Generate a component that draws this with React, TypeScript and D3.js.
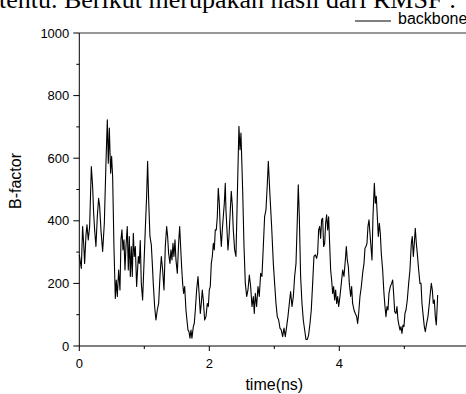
import React from "react";
import * as d3 from "d3";

const timeNs: number[] = [
  0.0, 0.031, 0.051, 0.067, 0.082, 0.103, 0.118, 0.138, 0.159, 0.185, 0.205, 0.221, 0.236, 0.256, 0.277, 0.297,
  0.313, 0.333, 0.359, 0.385, 0.41, 0.431, 0.446, 0.462, 0.482, 0.497, 0.513, 0.533, 0.554, 0.569, 0.585, 0.605,
  0.626, 0.641, 0.656, 0.672, 0.687, 0.703, 0.718, 0.738, 0.754, 0.769, 0.785, 0.8, 0.815, 0.831, 0.846, 0.862,
  0.882, 0.908, 0.923, 0.938, 0.954, 0.974, 1.015, 1.036, 1.051, 1.067, 1.087, 1.108, 1.123, 1.138, 1.159, 1.179,
  1.2, 1.221, 1.241, 1.262, 1.282, 1.303, 1.323, 1.344, 1.359, 1.374, 1.395, 1.41, 1.426, 1.441, 1.456, 1.472,
  1.487, 1.508, 1.528, 1.544, 1.559, 1.574, 1.59, 1.605, 1.621, 1.641, 1.656, 1.672, 1.687, 1.703, 1.718, 1.733,
  1.754, 1.769, 1.785, 1.805, 1.826, 1.846, 1.862, 1.877, 1.892, 1.908, 1.928, 1.949, 1.969, 1.985, 2.0, 2.015,
  2.031, 2.046, 2.062, 2.077, 2.092, 2.108, 2.123, 2.138, 2.154, 2.169, 2.185, 2.2, 2.215, 2.231, 2.246, 2.256,
  2.272, 2.287, 2.303, 2.318, 2.338, 2.354, 2.369, 2.39, 2.41, 2.431, 2.456, 2.472, 2.487,
  2.513, 2.534, 2.554, 2.575, 2.595, 2.616, 2.636, 2.657, 2.677, 2.692, 2.708, 2.728, 2.749, 2.769, 2.79, 2.81,
  2.831, 2.851, 2.872, 2.893, 2.908, 2.934, 2.959, 2.985, 3.005, 3.026, 3.046, 3.067, 3.087, 3.108, 3.128, 3.149,
  3.169, 3.19, 3.21, 3.231, 3.251, 3.272, 3.293, 3.313, 3.334, 3.354, 3.369, 3.385, 3.405, 3.426, 3.446, 3.467,
  3.487, 3.508, 3.528, 3.549, 3.569, 3.59, 3.61, 3.631, 3.651, 3.667, 3.682, 3.698, 3.713, 3.728, 3.744, 3.759,
  3.775, 3.79, 3.805, 3.821, 3.836, 3.851, 3.867, 3.882, 3.898, 3.913, 3.928, 3.944, 3.959, 3.975, 3.99, 4.01,
  4.031, 4.052, 4.072, 4.093, 4.108, 4.123, 4.139, 4.154, 4.175, 4.19, 4.205, 4.226, 4.246, 4.267, 4.282, 4.298,
  4.318, 4.339, 4.359, 4.38, 4.395, 4.41, 4.426, 4.441, 4.457, 4.472, 4.487, 4.503, 4.518, 4.539, 4.554, 4.569,
  4.585, 4.6, 4.616, 4.631, 4.646, 4.667, 4.687, 4.703, 4.718, 4.734, 4.749, 4.764, 4.785, 4.805, 4.821, 4.836,
  4.852, 4.872, 4.887, 4.903, 4.918, 4.934, 4.949, 4.964, 4.98, 4.995, 5.01, 5.026, 5.046, 5.067, 5.087, 5.108,
  5.123, 5.139, 5.154, 5.169, 5.185, 5.2, 5.221, 5.241, 5.257, 5.272, 5.292, 5.308, 5.323, 5.344, 5.364, 5.385,
  5.4, 5.416, 5.431, 5.446, 5.462, 5.477, 5.492, 5.508, 5.513,
];

const backbone: number[] = [
  291, 248, 382, 328, 264, 355, 387, 339, 382, 573, 510, 424, 371, 318, 413, 472,
  446, 371, 302, 392, 584, 723, 584, 696, 552, 606, 541, 318, 152, 211, 158, 243,
  179, 339, 371, 307, 339, 243, 318, 382, 243, 350, 222, 318, 222, 360, 286, 318,
  190, 286, 264, 337, 200, 147, 371, 480, 590, 467, 350, 323, 264, 200, 126, 83,
  115, 136, 222, 286, 243, 179, 318, 382, 350, 296, 264, 307, 275, 328, 286, 339,
  275, 232, 328, 382, 318, 254, 200, 168, 190, 115, 83, 51, 46, 25, 51, 25,
  62, 72, 115, 179, 222, 158, 104, 136, 179, 147, 83, 94, 136, 126, 179, 190,
  264, 286, 328, 307, 371, 371, 413, 504, 456, 371, 318, 371, 413, 456, 520, 435,
  371, 307, 350, 413, 494, 450, 371, 307, 286, 478, 702, 627, 680,
  499, 318, 200, 158, 179, 227, 190, 126, 158, 104, 168, 126, 190, 158, 232, 222,
  318, 413, 435, 520, 590, 478, 382, 264, 200, 136, 94, 83, 57, 51, 30, 57,
  30, 62, 94, 136, 174, 126, 158, 222, 264, 403, 515, 413, 222, 136, 83, 51,
  21, 21, 35, 72, 115, 200, 286, 291, 280, 296, 371, 382, 344, 403, 408, 318,
  328, 392, 419, 371, 413, 328, 243, 211, 168, 190, 147, 179, 136, 158, 126, 158,
  200, 243, 222, 275, 318, 275, 254, 200, 158, 190, 136, 115, 104, 94, 72, 104,
  158, 190, 232, 264, 312, 318, 328, 382, 403, 360, 318, 275, 413, 520, 456, 478,
  413, 350, 392, 360, 296, 243, 168, 126, 94, 126, 115, 168, 190, 200, 211, 168,
  110, 104, 126, 83, 67, 51, 62, 40, 67, 62, 104, 115, 147, 200, 243, 328,
  350, 286, 328, 376, 328, 296, 243, 200, 200, 136, 94, 62, 46, 72, 94, 136,
  168, 200, 179, 136, 147, 94, 67, 136, 163,
];

const xTicks: number[] = [0, 1, 2, 3, 4, 5, 6];
const yTicks: number[] = [0, 100, 200, 300, 400, 500, 600, 700, 800, 900, 1000];
const xLabel = "time(ns)";
const yLabel = "B-factor";
const seriesName = "backbone";
const pageText = "tentu. Berikut merupakan hasil dari RMSF :";

export default function App() {
  const W = 466;
  const H = 394;
  const left = 79.3;
  const right = 469.3;
  const top = 33;
  const bottom = 346;

  const x = d3.scaleLinear().domain([0, 6]).range([left, right]);
  const y = d3.scaleLinear().domain([0, 1000]).range([bottom, top]);

  const data = timeNs.map((t, i) => ({ t, v: backbone[i] }));
  const line = d3
    .line<{ t: number; v: number }>()
    .x((d) => x(d.t))
    .y((d) => y(d.v));

  const sans = "Arial, 'Liberation Sans', sans-serif";

  return (
    <svg
      width={W}
      height={H}
      style={{ position: "absolute", left: 0, top: 0, background: "#fff" }}
    >
      <rect x={0} y={0} width={W} height={H} fill="#fff" />
      <text
        x={-1}
        y={8}
        fontFamily="'Liberation Serif', 'Times New Roman', serif"
        fontSize={26}
        fill="#000"
      >
        {pageText}
      </text>

      {/* frame */}
      <line x1={left} x2={right} y1={top} y2={top} stroke="#333" strokeWidth={1} />
      <line x1={right} x2={right} y1={top} y2={bottom} stroke="#000" strokeWidth={1} />
      <line x1={left} x2={left} y1={top} y2={bottom} stroke="#000" strokeWidth={1} />
      <line x1={left} x2={right} y1={bottom} y2={bottom} stroke="#000" strokeWidth={1} />

      {/* y ticks */}
      {yTicks.map((v) => {
        const major = v % 200 === 0;
        return (
          <g key={"y" + v}>
            <line
              x1={left - (major ? 6 : 3)}
              x2={left}
              y1={y(v)}
              y2={y(v)}
              stroke="#000"
              strokeWidth={1}
            />
            {major && (
              <text
                x={left - 10}
                y={y(v)}
                dy="0.35em"
                textAnchor="end"
                fontFamily={sans}
                fontSize={13}
                fill="#000"
              >
                {v}
              </text>
            )}
          </g>
        );
      })}

      {/* x ticks */}
      {xTicks.map((t) => {
        const major = t % 2 === 0;
        return (
          <g key={"x" + t}>
            <line
              x1={x(t)}
              x2={x(t)}
              y1={bottom}
              y2={bottom + (major ? 5 : 3)}
              stroke="#000"
              strokeWidth={1}
            />
            {major && (
              <text
                x={x(t)}
                y={bottom + 22}
                textAnchor="middle"
                fontFamily={sans}
                fontSize={13}
                fill="#000"
              >
                {t}
              </text>
            )}
          </g>
        );
      })}

      <path d={line(data) ?? ""} fill="none" stroke="#000" strokeWidth={1.1} strokeLinejoin="round" />

      {/* axis titles */}
      <text
        x={(left + right) / 2}
        y={390}
        textAnchor="middle"
        fontFamily={sans}
        fontSize={16}
        fill="#000"
      >
        {xLabel}
      </text>
      <text
        transform={`translate(21, 181) rotate(-90)`}
        textAnchor="middle"
        fontFamily={sans}
        fontSize={16}
        fill="#000"
      >
        {yLabel}
      </text>

      {/* legend */}
      <line x1={355} x2={391} y1={21} y2={21} stroke="#000" strokeWidth={1} />
      <text x={398} y={24} fontFamily={sans} fontSize={16} fill="#000">
        {seriesName}
      </text>
    </svg>
  );
}
